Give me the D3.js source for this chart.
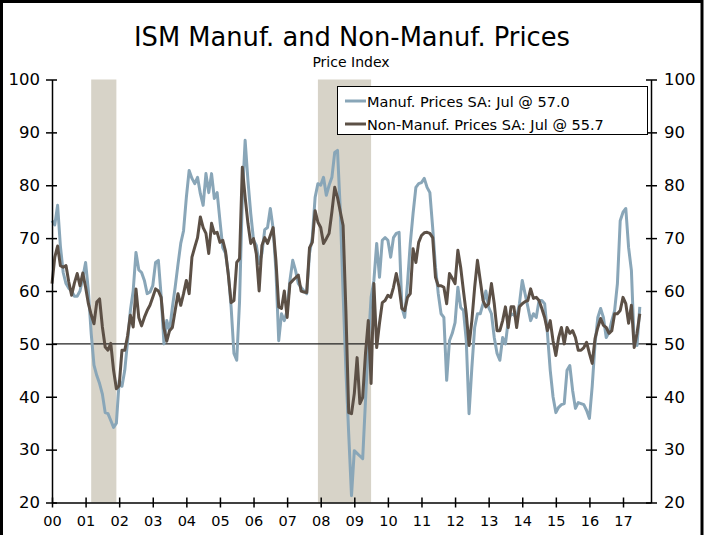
<!DOCTYPE html>
<html><head><meta charset="utf-8">
<script src="https://cdnjs.cloudflare.com/ajax/libs/d3/7.8.5/d3.min.js"></script>
<style>body{margin:0;background:#fff;}svg{display:block;}</style>
</head><body>
<svg id="chart" width="713" height="535"></svg>
<script>
// ---- data (monthly, Jan 2000 .. Jul 2017) ----
const manufPrices = [
 73.3, 72.5, 76.2, 68.5, 63.5, 61.4, 60.5, 60, 59, 59, 60, 62.5,
 65.4, 60, 52, 46, 44, 42.5, 40.5, 37, 36.8, 35.5, 34.2, 35,
 43, 42, 45, 50.5, 56.3, 60, 67.3, 64, 63.5, 62, 59.5, 59.8,
 61, 65.4, 65.8, 59, 50, 54.4, 52.5, 56.9, 60.7, 65, 69, 71.4,
 77.7, 82.8, 81.3, 80.3, 81.5, 78.4, 76.2, 82.2, 78.6, 82.2, 77.5, 78.6,
 73.3, 68.2, 67.1, 63.3, 56.9, 48.2, 46.9, 58, 77.7, 88.5, 80.9, 74.7,
 69.6, 68.6, 65.2, 67.1, 71.6, 72, 75.6, 71.8, 63.9, 50.6, 55.7, 54.4,
 56.3, 62, 65.8, 63.9, 61.4, 60.7, 60, 59.5, 67.1, 70.1, 77.7, 80.3,
 80, 81.5, 78.1, 80, 81.5, 86.2, 86.6, 75.2, 59.5, 45, 33, 21.3,
 29.8, 29.3, 28.8, 28.3, 39.3, 50, 58.8, 62, 69, 62.6, 69.6, 70.1,
 69.6, 66.4, 70.1, 70.9, 71.1, 56.9, 55, 61.4, 69, 74.7, 79.6, 80.3,
 80.5, 81.3, 79.6, 78.6, 72, 64.5, 59.5, 55.7, 55, 43.1, 50.6, 52,
 54, 60.7, 56.9, 56.3, 50.6, 36.8, 45.5, 53.1, 55.7, 55.7, 57.6, 60,
 56.9, 55.7, 51.2, 48.2, 46.9, 51.2, 50, 54.4, 55.7, 55.5, 55, 57.6,
 62, 59.5, 57, 54.4, 55.7, 55, 58.2, 58.2, 57.6, 52, 45, 40,
 37, 38, 38.5, 38.7, 45, 45.9, 41.2, 37.8, 38.9, 38.7, 38.5, 37.4,
 35.9, 42, 50, 55, 56.7, 55, 51.2, 52.2, 54.4, 56.3, 61.4, 73.3,
 74.9, 75.6, 68.2, 63.9, 50, 49.7, 57
];
const nonManufPrices = [
 61.4, 66.4, 68.5, 64.8, 64.5, 64.8, 61.7, 59.2, 61.5, 63.3, 61, 63.4,
 60.7, 57.6, 55.5, 53.8, 57.9, 58.5, 53.2, 49.4, 48.8, 50.1, 45, 41.5,
 42.1, 48.8, 48.8, 51.5, 55.4, 53.2, 60.4, 55, 53.4, 55, 56.3, 57.3,
 58.8, 60.4, 60, 58.8, 53, 50.5, 52.5, 53.1, 56.3, 59.5, 57.3, 59.5,
 62, 59.5, 66.4, 68.3, 70.1, 74, 72, 70.9, 67.1, 72.8, 70.9, 71.1,
 69.2, 69.6, 67.5, 63, 57.8, 58.2, 65.4, 66.1, 83.4, 77.7, 72.8, 69,
 69.9, 67, 60, 68.6, 70.1, 69, 70.5, 72, 65.8, 57, 56.7, 60,
 55, 61.4, 62, 62.5, 63, 60, 59.8, 59.7, 68.2, 69.2, 75.2, 73,
 72, 69, 69.9, 70.9, 75, 79.6, 77.7, 75, 72.4, 56.3, 37, 36.8,
 40.6, 47.4, 38.7, 39.9, 48.2, 54.4, 42.5, 61.4, 49.3, 53.9, 57.8, 58.2,
 59.2, 58.8, 60.7, 63.3, 60.7, 56.7, 56.3, 58.8, 59.5, 68, 65.4, 69.2,
 70.5, 71, 71.1, 70.9, 70.1, 62.6, 61, 61, 60.7, 57.6, 63.3, 62.4,
 61.4, 67.7, 64.5, 60, 55.7, 49.7, 54.4, 60.7, 65.8, 62, 58.2, 57,
 57.6, 61.4, 57.6, 52.5, 52.5, 54.4, 57, 53.1, 57, 57, 53.1, 57,
 57.6, 58, 58.2, 60.4, 58.6, 58.8, 58.2, 56.7, 55, 52.5, 54.4, 50.6,
 47.8, 51.2, 53.1, 50, 53.1, 52, 52.5, 51.2, 48.8, 48.8, 49.3, 50.3,
 48.2, 46.3, 51, 53.1, 54.8, 53.5, 53.1, 52, 52.5, 55.7, 55.7, 56.3,
 58.8, 57.6, 53.9, 57.3, 49.3, 52, 55.7
];
const yearLabels = ["00","01","02","03","04","05","06","07","08","09","10","11","12","13","14","15","16","17"];
const yTickValues = [20, 30, 40, 50, 60, 70, 80, 90, 100];
// recession periods as month indices from Jan 2000 [start, end)
const recessions = [[14, 23], [95, 114]];
const seriesNames = ["Manuf. Prices SA: Jul @ 57.0", "Non-Manuf. Prices SA: Jul @ 55.7"];
const seriesColors = ["#89a6b8", "#5c5046"];
const titleText = "ISM Manuf. and Non-Manuf. Prices";
const subtitleText = "Price Index";

// ---- drawing ----
const svg = d3.select("#chart");
const FONT = "DejaVu Sans, Verdana, sans-serif";
const L = 52, R = 651, T = 79.5, B = 502.5;

const x = d3.scaleLinear().domain([0, 214]).range([L, R]);
const y = d3.scaleLinear().domain([20, 100]).range([B, T]);

svg.append("rect").attr("width", 713).attr("height", 535).attr("fill", "#fff");

// recessions
svg.append("g").selectAll("rect").data(recessions).join("rect")
  .attr("x", d => x(d[0])).attr("width", d => x(d[1]) - x(d[0]))
  .attr("y", T).attr("height", B - T).attr("fill", "#d7d3c8");

// 50 line
svg.append("line").attr("x1", L).attr("x2", R).attr("y1", y(50)).attr("y2", y(50))
  .attr("stroke", "#222").attr("stroke-width", 1.2);

// series
const line = d3.line().x((d, i) => x(i)).y(d => y(d));
[manufPrices, nonManufPrices].forEach((s, k) => {
  svg.append("path").datum(s).attr("d", line).attr("fill", "none")
    .attr("stroke", seriesColors[k]).attr("stroke-width", 3)
    .attr("stroke-linejoin", "round");
});

// axes
function styleAxis(g) {
  g.selectAll("path,line").attr("stroke", "#000").attr("stroke-width", 1.5);
  g.selectAll("text").attr("font-family", FONT).attr("fill", "#000");
}
const yl = svg.append("g").attr("transform", `translate(${L},0)`)
  .call(d3.axisLeft(y).tickValues(yTickValues).tickSize(6).tickPadding(6).tickSizeOuter(0));
yl.selectAll(".tick line").attr("x1", 5);
yl.selectAll("text").attr("font-size", 16.5);
styleAxis(yl);

const yr = svg.append("g").attr("transform", `translate(${R},0)`)
  .call(d3.axisRight(y).tickValues(yTickValues).tickSize(6).tickPadding(7).tickSizeOuter(0));
yr.selectAll(".tick line").attr("x1", -5);
yr.selectAll("text").attr("font-size", 16.5);
styleAxis(yr);

const xa = svg.append("g").attr("transform", `translate(0,${B})`)
  .call(d3.axisBottom(x).tickValues(yearLabels.map((d, i) => i * 12))
    .tickFormat((d, i) => yearLabels[i]).tickSize(5).tickPadding(8).tickSizeOuter(0));
xa.selectAll(".tick line").attr("y1", -5);
xa.selectAll("text").attr("font-size", 14.5);
styleAxis(xa);

// legend
const lg = svg.append("g");
lg.append("rect").attr("x", 337.5).attr("y", 86.5).attr("width", 310).attr("height", 48)
  .attr("fill", "#fff").attr("stroke", "#000").attr("stroke-width", 1);
seriesNames.forEach((n, k) => {
  const cy = 101 + k * 23;
  lg.append("line").attr("x1", 345).attr("x2", 366).attr("y1", cy).attr("y2", cy)
    .attr("stroke", seriesColors[k]).attr("stroke-width", 3);
  lg.append("text").attr("x", 367).attr("y", cy + 5.5).attr("font-family", FONT)
    .attr("font-size", 14.5).attr("fill", "#000").text(n);
});

// titles
svg.append("text").attr("x", 352).attr("y", 46).attr("text-anchor", "middle")
  .attr("font-family", FONT).attr("font-size", 26).attr("fill", "#000")
  .attr("textLength", 436).attr("lengthAdjust", "spacingAndGlyphs").text(titleText);
svg.append("text").attr("x", 351).attr("y", 67).attr("text-anchor", "middle")
  .attr("font-family", FONT).attr("font-size", 14).attr("fill", "#000").text(subtitleText);

// frame
svg.append("rect").attr("x", 1.5).attr("y", 1.5).attr("width", 700.5).attr("height", 600)
  .attr("fill", "none").attr("stroke", "#000").attr("stroke-width", 3);
</script>
</body></html>
